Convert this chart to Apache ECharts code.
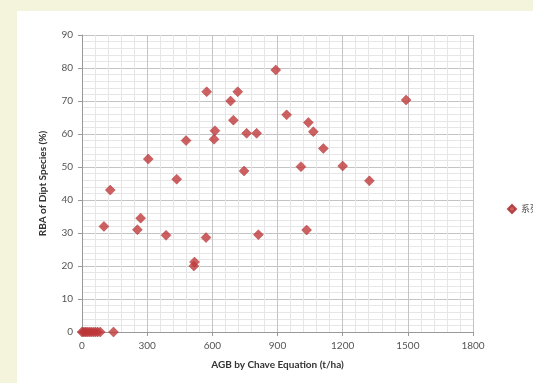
<!DOCTYPE html>
<html>
<head>
<meta charset="utf-8">
<script src="https://cdn.jsdelivr.net/npm/echarts@6/dist/echarts.min.js"></script>
<style>
  html, body { margin: 0; padding: 0; background: #f4f4dc; }
  #panel { position: absolute; left: 17px; top: 11px; right: 0; bottom: 0; background: #ffffff; }
  #chart { position: absolute; left: 0; top: 0; width: 533px; height: 383px; }
</style>
</head>
<body>
<div id="panel"></div>
<div id="chart"></div>
<script>
var seriesName = '系列1';
var xTitle = 'AGB by Chave Equation (t/ha)';
var yTitle = 'RBA of Dipt Species (%)';

// AGB (t/ha) and RBA (%)
var agb = [0, 8, 16, 24, 33, 42, 52, 62, 72, 84, 145,
  101, 130, 255, 270, 305, 387, 436, 479, 515, 518, 571, 574, 608, 612,
  684, 697, 717, 746, 758, 804, 812, 892, 942, 1008, 1034, 1042, 1065,
  1111, 1200, 1323, 1492];
var rba = [0, 0, 0, 0, 0, 0, 0, 0, 0, 0, 0,
  32, 43, 31, 34.5, 52.4, 29.3, 46.3, 58, 20.0, 21.2, 28.6, 72.8, 58.4, 61,
  70, 64.2, 72.8, 48.8, 60.2, 60.2, 29.5, 79.4, 65.8, 50.1, 30.9, 63.5, 60.7,
  55.6, 50.3, 45.8, 70.3];

var points = agb.map(function (x, i) { return [x, rba[i]]; });

var chart = echarts.init(document.getElementById('chart'));
var labelFont = { color: '#555', fontSize: 10, fontFamily: 'Lato' };

var option = {
  animation: false,
  backgroundColor: 'transparent',
  grid: { left: 82, right: 60, top: 35, bottom: 51 },
  legend: {
    left: 502, top: 199,
    icon: 'diamond', itemWidth: 8, itemHeight: 8, itemGap: 4,
    textStyle: { color: '#555', fontSize: 9, fontFamily: 'Noto Sans CJK SC' },
    data: [seriesName]
  },
  xAxis: {
    type: 'value', min: 0, max: 1800, interval: 300,
    name: xTitle, nameLocation: 'middle', nameGap: 28,
    nameTextStyle: { color: '#333', fontSize: 10, fontWeight: 'bold', fontFamily: 'Lato' },
    axisLine: { show: true, lineStyle: { color: '#999' } },
    axisTick: { show: true, length: 4, lineStyle: { color: '#999' } },
    axisLabel: Object.assign({ margin: 9, formatter: function (v) { return String(v); } }, labelFont),
    splitLine: { show: true, lineStyle: { color: '#c4c4c4', width: 1 } },
    minorTick: { show: false, splitNumber: 5 },
    minorSplitLine: { show: true, lineStyle: { color: '#e6e6e6', width: 1 } }
  },
  yAxis: {
    type: 'value', min: 0, max: 90, interval: 10,
    name: yTitle, nameLocation: 'middle', nameGap: 34, nameRotate: 90,
    nameTextStyle: { color: '#333', fontSize: 10, fontWeight: 'bold', fontFamily: 'Lato' },
    axisLine: { show: true, lineStyle: { color: '#999' } },
    axisTick: { show: true, length: 4, lineStyle: { color: '#999' } },
    axisLabel: Object.assign({ margin: 9 }, labelFont),
    splitLine: { show: true, lineStyle: { color: '#c4c4c4', width: 1 } },
    minorTick: { show: false, splitNumber: 5 },
    minorSplitLine: { show: true, lineStyle: { color: '#e6e6e6', width: 1 } }
  },
  series: [{
    name: seriesName,
    type: 'scatter',
    symbol: 'diamond',
    symbolSize: 10,
    itemStyle: { color: '#c0393b', borderColor: '#a8282c', borderWidth: 0.5 },
    data: points
  }]
};

chart.setOption(option);
</script>
</body>
</html>
